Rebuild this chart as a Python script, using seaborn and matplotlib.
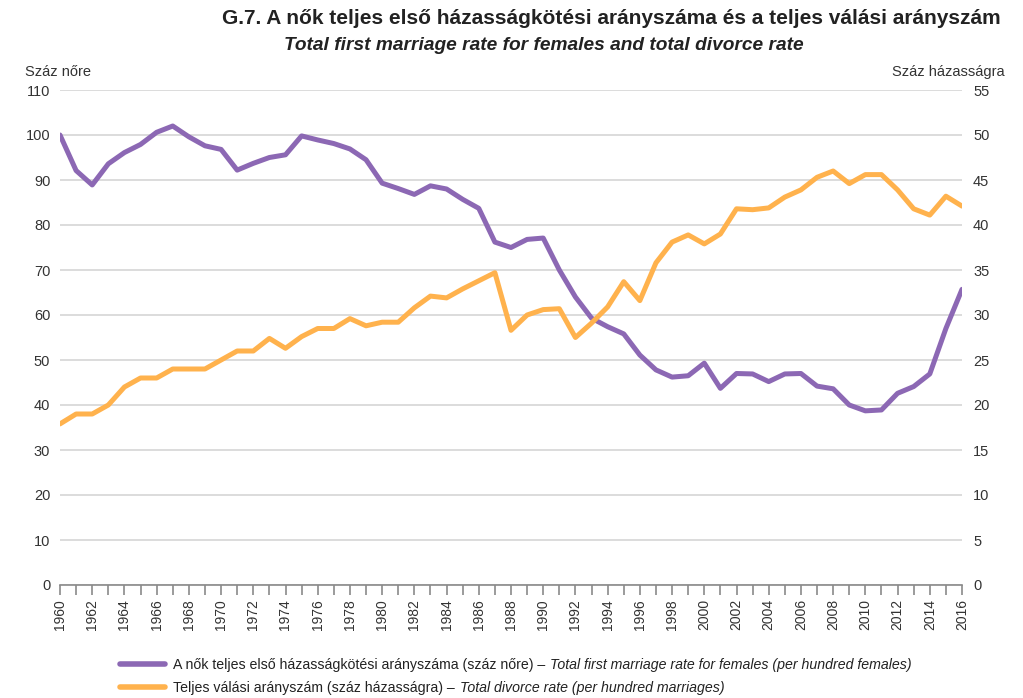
import pandas as pd
import matplotlib
matplotlib.use("Agg")
import matplotlib.pyplot as plt
import seaborn as sns
from matplotlib.lines import Line2D
from matplotlib.ticker import MultipleLocator

# --- data ---
years = list(range(1960, 2017))

# Total first marriage rate for females (per hundred females), left axis
marriage = [100.0, 92.1, 88.9, 93.6, 96.1, 97.9, 100.6, 102.0, 99.6, 97.6,
            96.8, 92.2, 93.7, 95.0, 95.6, 99.8, 98.9, 98.1, 96.9, 94.5,
            89.3, 88.1, 86.8, 88.7, 88.0, 85.7, 83.7, 76.2, 75.0, 76.8,
            77.1, 70.0, 64.0, 59.3, 57.4, 55.8, 51.1, 47.8, 46.2, 46.5,
            49.3, 43.7, 47.0, 46.9, 45.2, 46.9, 47.0, 44.2, 43.6, 40.0,
            38.7, 38.9, 42.6, 44.1, 46.9, 57.0, 65.7]

# Total divorce rate (per hundred marriages), right axis
divorce = [17.9, 19.0, 19.0, 20.0, 22.0, 23.0, 23.0, 24.0, 24.0, 24.0,
           25.0, 26.0, 26.0, 27.4, 26.3, 27.6, 28.5, 28.5, 29.6, 28.8,
           29.2, 29.2, 30.8, 32.1, 31.9, 32.9, 33.8, 34.7, 28.3, 30.0,
           30.6, 30.7, 27.5, 29.1, 30.9, 33.7, 31.6, 35.8, 38.1, 38.9,
           37.9, 39.0, 41.8, 41.7, 41.9, 43.1, 43.9, 45.3, 46.0, 44.6,
           45.6, 45.6, 43.9, 41.8, 41.1, 43.2, 42.1]

title_hu = "G.7. A nők teljes első házasságkötési arányszáma és a teljes válási arányszám"
title_en = "Total first marriage rate for females and total divorce rate"
left_unit = "Száz nőre"
right_unit = "Száz házasságra"
legend_hu = ["A nők teljes első házasságkötési arányszáma (száz nőre) – ",
             "Teljes válási arányszám (száz házasságra) – "]
legend_en = ["Total first marriage rate for females (per hundred females)",
             "Total divorce rate (per hundred marriages)"]

purple = "#8c68b4"
orange = "#ffb24d"
text_col = "#333333"

sns.set_theme(style="white")
plt.rcParams["font.family"] = ["Liberation Sans", "DejaVu Sans"]

df = pd.DataFrame({"year": years, "marriage": marriage, "divorce": divorce})

W, H = 1023, 698
fig = plt.figure(figsize=(W / 100, H / 100), dpi=100)
ax = fig.add_axes([60 / W, 1 - 585 / H, 902 / W, 495 / H])
ax2 = ax.twinx()

sns.lineplot(data=df, x="year", y="marriage", ax=ax, color=purple, lw=3.6, legend=False)
sns.lineplot(data=df, x="year", y="divorce", ax=ax2, color=orange, lw=3.6, legend=False)

ax.set_xlim(1960, 2016)
ax.set_ylim(0, 110)
ax2.set_ylim(0, 55)
ax.set_yticks(range(0, 111, 10))
ax2.set_yticks(range(0, 56, 5))
ax.xaxis.set_major_locator(MultipleLocator(2))
ax.xaxis.set_minor_locator(MultipleLocator(1))

ax.grid(axis="y", color="#d9d9d9", lw=1.3)
ax.set_axisbelow(True)
for a in (ax, ax2):
    a.set_xlabel("")
    a.set_ylabel("")
    for s in a.spines.values():
        s.set_visible(False)
ax.spines["bottom"].set_visible(True)
ax.spines["bottom"].set_color("#8a8a8a")
ax.spines["bottom"].set_linewidth(1.2)

ax.tick_params(axis="x", which="both", direction="out", length=7, width=1.2,
               color="#8a8a8a", bottom=True, labelsize=10, labelcolor=text_col,
               labelrotation=90, pad=3)
ax.tick_params(axis="y", length=0, labelsize=10.5, labelcolor=text_col, pad=7)
ax2.tick_params(axis="y", length=0, labelsize=10.5, labelcolor=text_col, pad=8)

# titles and axis units
fig.text(611 / W, 1 - 18 / H, title_hu, ha="center", va="center",
         fontsize=15, weight="bold", color="#222222")
fig.text(544 / W, 1 - 45 / H, title_en, ha="center", va="center",
         fontsize=13.8, weight="bold", style="italic", color="#222222")
fig.text(25 / W, 1 - 72 / H, left_unit, ha="left", va="center", fontsize=10.5, color=text_col)
fig.text(1005 / W, 1 - 72 / H, right_unit, ha="right", va="center", fontsize=10.5, color=text_col)

# legend (Hungarian part regular, English part italic)
handles = [Line2D([], [], color=purple, lw=4), Line2D([], [], color=orange, lw=4)]
leg = fig.legend(handles, legend_hu, loc="upper left", bbox_to_anchor=(113 / W, 1 - 651 / H),
                 frameon=False, fontsize=10.2, handlelength=3.2, handletextpad=0.55,
                 labelspacing=0.62, borderpad=0, labelcolor="#222222")

fig.canvas.draw()
renderer = fig.canvas.get_renderer()
inv = fig.transFigure.inverted()
for t, en in zip(leg.get_texts(), legend_en):
    bb = t.get_window_extent(renderer)
    x, y = inv.transform((bb.x1 + 1, bb.y0))
    fig.text(x, y, en, ha="left", va="bottom", fontsize=10.2, style="italic", color="#222222")

fig.savefig("out.png", dpi=100)
